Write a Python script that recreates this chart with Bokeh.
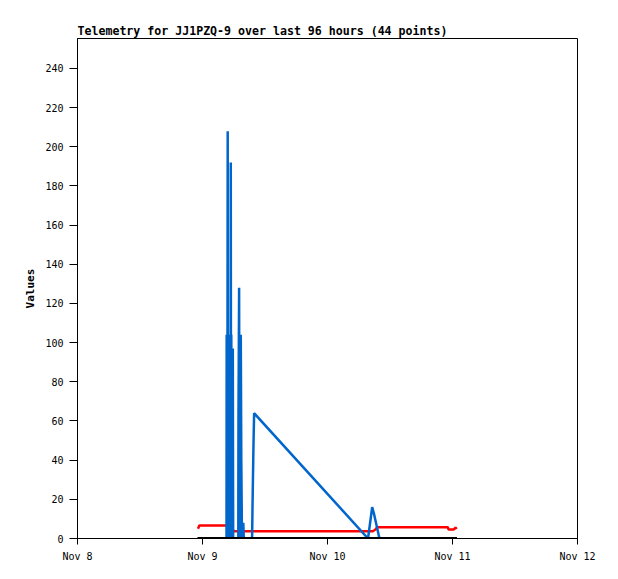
import numpy as np
from bokeh.plotting import figure
from bokeh.models import Range1d, FixedTicker
from bokeh.embed import file_html
from bokeh.resources import INLINE

# hours since Nov 8 00:00
red_hours = [23.14, 23.39, 28.61, 29.57, 29.95, 56.70, 57.22, 57.54, 71.10, 71.23, 72.25, 72.58, 72.77]
red_values = [5.0, 6.6, 6.6, 6.6, 3.7, 3.7, 4.6, 5.8, 5.8, 4.6, 4.6, 5.6, 4.8]

blue_hours = [28.61, 28.64, 28.67, 28.71, 28.76, 28.80, 28.84, 28.88, 28.93, 28.98, 29.03, 29.08,
              29.13, 29.17, 29.22, 29.27, 29.32, 29.38, 29.43, 29.48, 29.53, 29.58,
              29.63, 29.68, 29.72, 29.77, 29.82, 29.89, 30.87, 30.91, 31.03, 31.10, 31.35, 31.45, 31.58,
              31.83, 31.93, 33.52, 33.60, 33.79, 33.91, 55.78, 56.58, 56.89, 57.98]
blue_values = [0, 104, 0, 104, 0, 104, 208, 0, 104, 0, 104, 0,
               104, 0, 104, 0, 104, 0, 192, 0, 104, 0,
               97, 0, 97, 0, 97, 0, 0, 64, 128, 0, 104, 40, 0,
               8, 0, 0, 16, 48, 64, 0, 16, 13, 0]

black_hours = [23.04, 29.9, 56.6, 72.86]
black_values = [0, 0, 0, 0]

tick_hours = [0, 24, 48, 72, 96]
tick_labels = ["Nov 8", "Nov 9", "Nov 10", "Nov 11", "Nov 12"]
y_ticks = list(range(0, 241, 20))

MONO = "DejaVu Sans Mono"

p = figure(width=610, height=571, output_backend="svg", toolbar_location=None,
           x_range=Range1d(0, 96), y_range=Range1d(0, 255.3),
           title="Telemetry for JJ1PZQ-9 over last 96 hours (44 points)",
           min_border_left=77, min_border_right=33, min_border_top=38, min_border_bottom=33)

p.title.text_font = MONO
p.title.text_font_size = "11.6px"
p.title.text_font_style = "bold"
p.title.align = "left"
p.title.offset = 0
p.title.standoff = 1
p.title.text_color = "black"

p.outline_line_color = "black"
p.outline_line_width = 1
p.outline_line_alpha = 1
p.xgrid.visible = False
p.ygrid.visible = False
p.background_fill_color = "white"
p.border_fill_color = "white"

p.xaxis.ticker = FixedTicker(ticks=tick_hours)
p.xaxis.major_label_overrides = {h: l for h, l in zip(tick_hours, tick_labels)}
p.yaxis.ticker = FixedTicker(ticks=y_ticks)
p.yaxis.axis_label = "Values"

for ax in (p.xaxis[0], p.yaxis[0]):
    ax.axis_line_color = "black"
    ax.major_tick_line_color = "black"
    ax.minor_tick_line_color = None
    ax.major_tick_in = 0
    ax.major_label_text_font = MONO
    ax.major_label_text_font_size = "10px"
    ax.major_label_text_color = "black"
    ax.major_label_standoff = 6
    ax.axis_label_text_font = MONO
    ax.axis_label_text_font_size = "11px"
    ax.axis_label_text_font_style = "bold"
    ax.axis_label_text_color = "black"
    ax.axis_label_standoff = 5
p.xaxis.major_tick_out = 6
p.yaxis.major_tick_out = 8

p.line(red_hours, red_values, line_color="#ff0000", line_width=2.5)
p.line(blue_hours, blue_values, line_color="#0066cc", line_width=2.5)
p.line(black_hours, black_values, line_color="black", line_width=3)

open("out.html", "w").write(file_html(p, INLINE))
